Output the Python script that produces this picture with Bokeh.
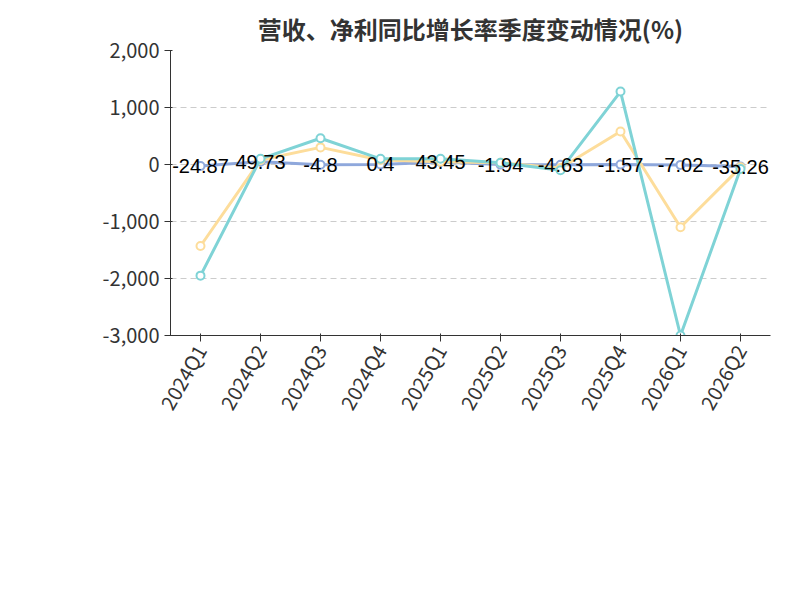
from bokeh.plotting import figure
from bokeh.models import Legend, LegendItem, Label, FixedTicker, NumeralTickFormatter, Range1d
from bokeh.embed import file_html
from bokeh.resources import INLINE

quarters = ["2024Q1","2024Q2","2024Q3","2024Q4","2025Q1","2025Q2","2025Q3","2025Q4","2026Q1","2026Q2"]
revenue = [-24.87, 49.73, -4.8, 0.4, 43.45, -1.94, -4.63, -1.57, -7.02, -35.26]
netprofit = [-1430, 80, 300, 80, 50, 30, -60, 580, -1100, -50]
deducted = [-1950, 100, 460, 100, 100, 30, -100, 1280, -3000, -80]
names = ["营业总收入同比增长率", "归母净利润同比增长率", "扣非净利润同比增长率"]
colors = ["#8fa8dc", "#fddd9b", "#7fd3d6"]
font = "Noto Sans CJK SC"

xs = list(range(len(quarters)))
p = figure(frame_width=600, frame_height=285, output_backend="svg", toolbar_location=None,
           x_range=Range1d(-0.5, 9.5), y_range=Range1d(-3000, 2000),
           min_border_left=170, min_border_right=14, min_border_top=50, min_border_bottom=120)
p.title.text = "营收、净利同比增长率季度变动情况(%)"
p.title.align = "center"
p.title.text_font = font
p.title.text_font_size = "24px"
p.title.text_color = "#333333"
p.outline_line_color = None
p.xgrid.grid_line_color = None
p.ygrid.grid_line_color = "#cccccc"
p.ygrid.grid_line_dash = "6 4"
p.yaxis.ticker = FixedTicker(ticks=[-3000, -2000, -1000, 0, 1000, 2000])
p.yaxis.formatter = NumeralTickFormatter(format="0,0")
p.xaxis.ticker = FixedTicker(ticks=xs)
p.xaxis.major_label_overrides = {i: q for i, q in enumerate(quarters)}
p.xaxis.major_label_orientation = 1.05
for ax in (p.xaxis, p.yaxis):
    ax.major_label_text_font = font
    ax.major_label_text_font_size = "20px"
    ax.major_label_text_color = "#333333"
    ax.axis_line_color = "#333333"
    ax.major_tick_line_color = "#333333"
    ax.minor_tick_line_color = None

items = []
for vals, name, c in zip([revenue, netprofit, deducted], names, colors):
    l = p.line(xs, vals, line_color=c, line_width=3)
    s = p.scatter(xs, vals, size=8, fill_color="white", line_color=c, line_width=2)
    items.append(LegendItem(label=name, renderers=[l, s]))

p.text(xs, revenue, text=[str(v) for v in revenue], text_align="center", text_baseline="middle",
       text_font_size="20px", text_color="black")

p.add_layout(Label(x=-1.6, y=1280, text="%", text_color="red", text_font_size="16px", angle=-0.8))
p.add_layout(Label(x=3.33, y=-6780, text="制图数据来自恒生聚源数据库", text_color="#c8961e",
                   text_font=font, text_font_size="15px", text_align="center", text_baseline="middle"))

leg = Legend(items=items, orientation="horizontal", ncols=2, label_text_font=font,
             label_text_font_size="20px", label_text_color="#333333", border_line_color=None,
             background_fill_alpha=0, glyph_width=50, glyph_height=24, spacing=20,
             location=(-85, -185), margin=0, padding=5)
p.add_layout(leg, "center")

open("out.html", "w").write(file_html(p, INLINE))
